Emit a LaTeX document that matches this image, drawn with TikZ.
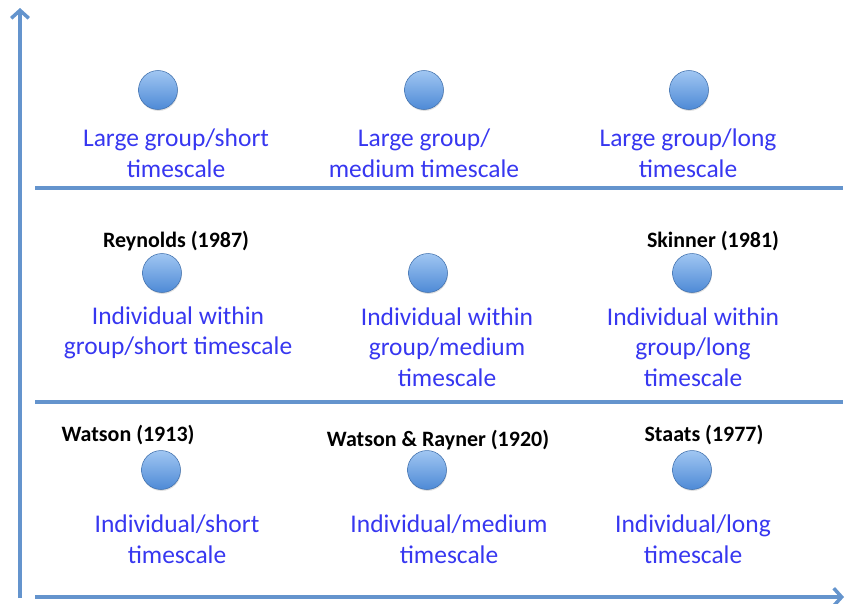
\documentclass[tikz,border=0pt]{standalone}
\usepackage{fontspec}
\setmainfont{Carlito}
\usetikzlibrary{shadows,arrows.meta}
\definecolor{axisblue}{RGB}{100,148,205}
\definecolor{textblue}{RGB}{55,55,240}
\definecolor{dottop}{RGB}{160,198,242}
\definecolor{dotbot}{RGB}{78,138,214}
\tikzset{
    dot/.style={circle,minimum size=0.78cm,inner sep=0pt,draw=dotbot!80!black,line width=0.3pt,
      top color=dottop,bottom color=dotbot,drop shadow={opacity=0.25,shadow xshift=0.3pt,shadow yshift=-0.8pt}},
    cell/.style={text=textblue,align=center,font=\fontsize{14.5}{17.4}\selectfont},
    study/.style={font=\bfseries\fontsize{12.5}{15}\selectfont},
    rule/.style={axisblue,line width=2pt},
  }
\begin{document}
\begin{tikzpicture}[x=0.02cm,y=-0.02cm]
				  \useasboundingbox (0,0) rectangle (845,603);
				  %axes
				  \coordinate (O) at (20,598);
				  \coordinate (Y) at (20,8);
				  \coordinate (X) at (844,597);
				  \draw[rule,-{Straight Barb[length=4.5pt,width=10pt]}] (O) -- (Y);
				  \draw[rule,-{Straight Barb[length=4.5pt,width=10pt]}] (35,597) -- (X);
				  \draw[rule] (35,188) -- (843,188);
				  \draw[rule] (35,402) -- (843,402);

				  %large group
				  \node[dot] (LS) at (158,90) {};
				  \node[dot] (LM) at (424,90) {};
				  \node[dot] (LL) at (689,90) {};
				  \node[cell] (tLS) at (176,153) {Large group/short\\timescale};
				  \node[cell] (tLM) at (424,153) {Large group/\\medium timescale};
				  \node[cell] (tLL) at (688,153) {Large group/long\\timescale};

				  %individual within group
				  \node[study] (Rey) at (176,241) {Reynolds (1987)};
				  \node[study] (Ski) at (713,241) {Skinner (1981)};
				  \node[dot] (GS) at (162,273) {};
				  \node[dot] (GM) at (428,273) {};
				  \node[dot] (GL) at (692,273) {};
				  \node[cell] (tGS) at (178,333) {Individual within\\group/short timescale};
				  \node[cell] (tGM) at (447,347) {Individual within\\group/medium\\timescale};
				  \node[cell] (tGL) at (693,347) {Individual within\\group/long\\timescale};

				  %individual
				  \node[study] (Wat) at (128,435) {Watson (1913)};
				  \node[study] (WR) at (438,440) {Watson \& Rayner (1920)};
				  \node[study] (Sta) at (704,435) {Staats (1977)};
				  \node[dot] (IS) at (161,470) {};
				  \node[dot] (IM) at (427,470) {};
				  \node[dot] (IL) at (692,470) {};
				  \node[cell] (tIS) at (177,539) {Individual/short\\timescale};
				  \node[cell] (tIM) at (449,539) {Individual/medium\\timescale};
				  \node[cell] (tIL) at (693,539) {Individual/long\\timescale};
				  \end{tikzpicture}
\end{document}
